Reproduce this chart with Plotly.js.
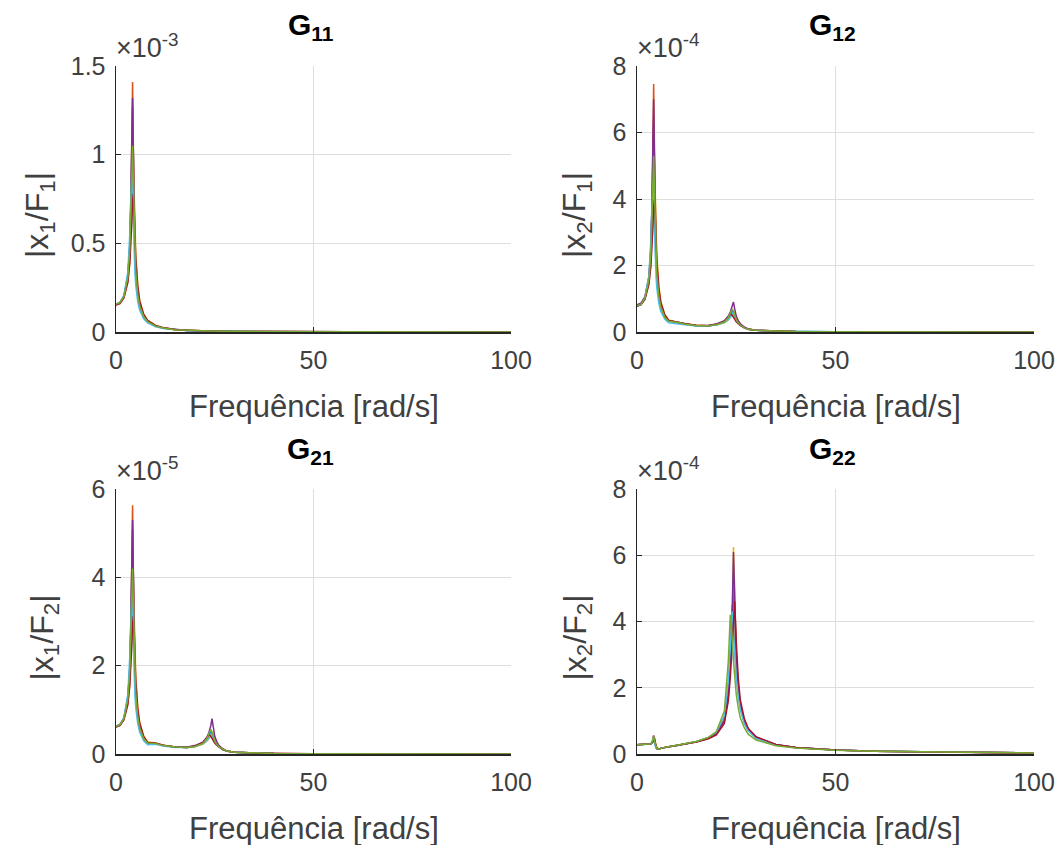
<!DOCTYPE html>
<html>
<head>
<meta charset="utf-8">
<script src="https://cdn.plot.ly/plotly-3.0.1.min.js"></script>
<style>html,body{margin:0;padding:0;background:#fff;}#chart{width:1060px;height:845px;}</style>
</head>
<body>
<div id="chart"></div>
<script>
// Frequency grid [rad/s]
const freq = [0,1,2,3,3.5,3.8,4.0,4.2,4.4,4.6,4.8,5.0,5.5,6,7,8,10,12,15,18,20,22,23,23.5,24,24.3,24.6,25,25.5,26,27,28,30,35,40,50,60,80,100];

const seriesColors = ['#0072BD','#D95319','#EDB120','#7E2F8E','#4DBEEE','#A2142F','#77AC30'];

// G11 |x1/F1| in units of 1e-3
const g11_blue   = [0.155,0.164,0.200,0.312,0.481,0.731,1.04,1.27,0.965,0.645,0.461,0.355,0.217,0.149,0.087,0.059,0.033,0.022,0.013,0.009,0.007,0.006,0.0055,0.0056,0.006,0.0062,0.0058,0.005,0.0048,0.0046,0.0042,0.004,0.0034,0.0025,0.0019,0.0012,0.0008,0.0005,0.0003];
const g11_orange = [0.152,0.162,0.198,0.31,0.486,0.750,1.107,1.41,1.03,0.664,0.468,0.36,0.217,0.149,0.087,0.059,0.033,0.022,0.013,0.009,0.007,0.006,0.0055,0.0056,0.006,0.0062,0.0058,0.005,0.0048,0.0046,0.0042,0.004,0.0034,0.0025,0.0019,0.0012,0.0008,0.0005,0.0003];
const g11_yellow = [0.155,0.163,0.195,0.284,0.398,0.534,0.678,0.864,0.95,0.80,0.596,0.449,0.267,0.178,0.101,0.067,0.037,0.024,0.0146,0.0099,0.0079,0.0065,0.006,0.006,0.0063,0.0065,0.006,0.0052,0.005,0.0047,0.0043,0.004,0.0035,0.0026,0.002,0.0012,0.0008,0.0005,0.0003];
const g11_purple = [0.158,0.167,0.204,0.318,0.49,0.739,1.07,1.32,0.99,0.653,0.465,0.358,0.219,0.151,0.088,0.06,0.034,0.022,0.0134,0.009,0.0072,0.006,0.0056,0.0057,0.0061,0.0063,0.0059,0.0051,0.0048,0.0046,0.0042,0.004,0.0034,0.0025,0.0019,0.0012,0.0008,0.0005,0.0003];
const g11_ltblue = [0.155,0.165,0.206,0.34,0.557,0.815,0.9,0.747,0.548,0.41,0.33,0.263,0.172,0.123,0.075,0.052,0.0295,0.0194,0.0119,0.0079,0.0065,0.0055,0.005,0.0051,0.0055,0.0057,0.0053,0.0046,0.0044,0.0042,0.0039,0.0037,0.0031,0.0023,0.0017,0.0011,0.0007,0.0004,0.0003];
const g11_dkred  = [0.152,0.16,0.192,0.28,0.388,0.505,0.617,0.738,0.78,0.68,0.538,0.42,0.26,0.175,0.1,0.066,0.037,0.024,0.0145,0.0098,0.0078,0.0064,0.006,0.006,0.0062,0.0064,0.006,0.0052,0.005,0.0047,0.0043,0.004,0.0035,0.0026,0.002,0.0012,0.0008,0.0005,0.0003];
const g11_green  = [0.156,0.165,0.201,0.31,0.47,0.688,0.917,1.05,0.848,0.603,0.443,0.345,0.214,0.148,0.087,0.059,0.033,0.022,0.013,0.009,0.007,0.006,0.0055,0.0056,0.006,0.0062,0.0058,0.005,0.0048,0.0046,0.0042,0.004,0.0034,0.0025,0.0019,0.0012,0.0008,0.0005,0.0003];

// G12 |x2/F1| in units of 1e-4
const g12_blue   = [0.78,0.82,1.0,1.56,2.4,3.65,5.2,6.35,4.82,3.22,2.3,1.78,1.09,0.75,0.45,0.33,0.3,0.24,0.19,0.19,0.22,0.3,0.42,0.5,0.62,0.6,0.48,0.37,0.28,0.21,0.13,0.08,0.05,0.025,0.015,0.008,0.005,0.003,0.002];
const g12_orange = [0.8,0.85,1.04,1.62,2.52,3.9,5.8,7.46,5.45,3.5,2.47,1.9,1.15,0.79,0.46,0.34,0.3,0.24,0.19,0.19,0.22,0.3,0.4,0.47,0.54,0.56,0.46,0.36,0.27,0.2,0.13,0.08,0.05,0.025,0.015,0.008,0.005,0.003,0.002];
const g12_yellow = [0.8,0.85,1.01,1.48,2.07,2.78,3.53,4.5,4.95,4.16,3.1,2.33,1.39,0.93,0.53,0.36,0.3,0.25,0.2,0.19,0.22,0.28,0.36,0.42,0.5,0.56,0.6,0.45,0.32,0.24,0.14,0.09,0.05,0.025,0.015,0.008,0.005,0.003,0.002];
const g12_purple = [0.82,0.87,1.06,1.66,2.56,3.9,5.65,7.0,5.25,3.46,2.46,1.9,1.16,0.8,0.47,0.34,0.3,0.24,0.19,0.2,0.24,0.34,0.48,0.6,0.78,0.9,0.7,0.48,0.34,0.25,0.15,0.09,0.05,0.025,0.015,0.008,0.005,0.003,0.002];
const g12_ltblue = [0.78,0.82,1.03,1.7,2.78,4.07,4.5,3.73,2.74,2.05,1.65,1.31,0.86,0.62,0.38,0.28,0.26,0.22,0.18,0.18,0.21,0.28,0.37,0.44,0.56,0.52,0.43,0.34,0.26,0.2,0.12,0.08,0.05,0.025,0.015,0.008,0.005,0.003,0.002];
const g12_dkred  = [0.77,0.82,0.98,1.43,1.98,2.58,3.15,3.76,3.98,3.47,2.74,2.14,1.33,0.89,0.51,0.35,0.3,0.25,0.2,0.19,0.23,0.32,0.45,0.56,0.5,0.44,0.38,0.31,0.25,0.2,0.13,0.08,0.05,0.025,0.015,0.008,0.005,0.003,0.002];
const g12_green  = [0.79,0.83,1.02,1.57,2.37,3.47,4.63,5.3,4.28,3.05,2.24,1.74,1.08,0.75,0.44,0.32,0.29,0.24,0.19,0.19,0.22,0.3,0.44,0.56,0.7,0.62,0.48,0.36,0.27,0.21,0.13,0.08,0.05,0.025,0.015,0.008,0.005,0.003,0.002];

// G21 |x1/F2| in units of 1e-5
const g21_blue   = [0.62,0.66,0.8,1.25,1.92,2.92,4.16,5.08,3.86,2.58,1.84,1.42,0.87,0.6,0.36,0.26,0.24,0.19,0.16,0.15,0.17,0.24,0.33,0.4,0.5,0.48,0.39,0.3,0.23,0.17,0.11,0.07,0.04,0.02,0.012,0.006,0.004,0.002,0.0015];
const g21_orange = [0.61,0.66,0.8,1.25,1.94,3.0,4.43,5.63,4.12,2.66,1.87,1.44,0.87,0.6,0.35,0.26,0.24,0.19,0.16,0.15,0.17,0.24,0.32,0.38,0.44,0.46,0.38,0.29,0.22,0.17,0.11,0.07,0.04,0.02,0.012,0.006,0.004,0.002,0.0015];
const g21_yellow = [0.62,0.65,0.78,1.14,1.59,2.14,2.71,3.46,3.8,3.2,2.38,1.8,1.07,0.71,0.41,0.28,0.25,0.2,0.16,0.15,0.17,0.22,0.29,0.34,0.4,0.45,0.48,0.36,0.26,0.19,0.11,0.07,0.04,0.02,0.012,0.006,0.004,0.002,0.0015];
const g21_purple = [0.63,0.67,0.82,1.27,1.96,2.96,4.28,5.3,3.96,2.61,1.86,1.43,0.88,0.6,0.35,0.26,0.24,0.19,0.16,0.16,0.19,0.27,0.38,0.48,0.64,0.8,0.6,0.4,0.28,0.2,0.12,0.07,0.04,0.02,0.012,0.006,0.004,0.002,0.0015];
const g21_ltblue = [0.62,0.66,0.82,1.36,2.23,3.26,3.6,2.99,2.19,1.64,1.32,1.05,0.69,0.49,0.3,0.21,0.22,0.18,0.15,0.15,0.17,0.23,0.3,0.36,0.45,0.42,0.35,0.27,0.21,0.16,0.1,0.07,0.04,0.02,0.012,0.006,0.004,0.002,0.0015];
const g21_dkred  = [0.61,0.64,0.77,1.12,1.55,2.02,2.47,2.95,3.12,2.72,2.15,1.68,1.04,0.7,0.4,0.26,0.25,0.2,0.16,0.15,0.18,0.26,0.36,0.45,0.4,0.35,0.3,0.25,0.2,0.16,0.1,0.07,0.04,0.02,0.012,0.006,0.004,0.002,0.0015];
const g21_green  = [0.62,0.66,0.8,1.24,1.88,2.75,3.67,4.2,3.39,2.41,1.77,1.38,0.86,0.59,0.35,0.25,0.24,0.19,0.16,0.15,0.17,0.24,0.35,0.45,0.56,0.5,0.39,0.29,0.22,0.17,0.11,0.07,0.04,0.02,0.012,0.006,0.004,0.002,0.0015];

// G22 |x2/F2| in units of 1e-4
const g22_blue   = [0.28,0.28,0.29,0.3,0.31,0.34,0.42,0.53,0.4,0.28,0.2,0.16,0.15,0.17,0.2,0.22,0.26,0.3,0.37,0.48,0.62,1.02,1.85,2.7,4.1,5.1,4.3,2.9,2.0,1.5,1.0,0.75,0.5,0.28,0.2,0.12,0.08,0.05,0.03];
const g22_orange = [0.28,0.28,0.29,0.3,0.31,0.34,0.43,0.56,0.42,0.29,0.2,0.16,0.15,0.17,0.2,0.22,0.26,0.3,0.38,0.5,0.65,1.1,2.1,3.1,4.5,3.9,3.2,2.4,1.8,1.4,0.95,0.72,0.48,0.27,0.19,0.12,0.08,0.05,0.03];
const g22_yellow = [0.28,0.28,0.29,0.3,0.31,0.33,0.36,0.44,0.5,0.36,0.24,0.18,0.15,0.17,0.2,0.22,0.26,0.3,0.37,0.48,0.61,0.98,1.7,2.5,4.0,6.25,4.9,3.1,2.1,1.55,1.02,0.76,0.5,0.28,0.2,0.12,0.08,0.05,0.03];
const g22_purple = [0.28,0.28,0.29,0.3,0.31,0.34,0.42,0.55,0.42,0.29,0.2,0.16,0.15,0.17,0.2,0.22,0.26,0.3,0.37,0.48,0.62,1.0,1.8,2.7,4.4,6.1,4.7,3.0,2.0,1.5,1.0,0.75,0.5,0.28,0.2,0.12,0.08,0.05,0.03];
const g22_ltblue = [0.28,0.28,0.29,0.3,0.32,0.36,0.48,0.45,0.33,0.24,0.18,0.16,0.15,0.17,0.2,0.22,0.26,0.3,0.38,0.5,0.66,1.15,2.2,3.2,4.3,3.7,3.0,2.3,1.75,1.35,0.92,0.7,0.47,0.27,0.19,0.12,0.08,0.05,0.03];
const g22_dkred  = [0.28,0.28,0.29,0.3,0.31,0.33,0.36,0.43,0.48,0.35,0.24,0.18,0.15,0.17,0.2,0.22,0.26,0.3,0.36,0.46,0.58,0.92,1.6,2.3,3.4,4.0,4.6,3.4,2.3,1.65,1.08,0.78,0.52,0.29,0.2,0.12,0.08,0.05,0.03];
const g22_green  = [0.28,0.28,0.29,0.3,0.31,0.34,0.42,0.54,0.41,0.29,0.2,0.16,0.15,0.17,0.2,0.22,0.26,0.3,0.38,0.5,0.68,1.3,2.8,4.2,3.5,2.8,2.3,1.8,1.4,1.1,0.8,0.6,0.42,0.25,0.18,0.11,0.08,0.05,0.03];

// Panel texts
const panelTitles = ['G<sub>11</sub>','G<sub>12</sub>','G<sub>21</sub>','G<sub>22</sub>'];
const yLabels = ['|x<sub>1</sub>/F<sub>1</sub>|','|x<sub>2</sub>/F<sub>1</sub>|','|x<sub>1</sub>/F<sub>2</sub>|','|x<sub>2</sub>/F<sub>2</sub>|'];
const xLabel = 'Frequência [rad/s]';
const exponents = ['-3','-4','-5','-4'];
const yMax = [1.5, 8, 6, 8];
const yTicks = [[0,0.5,1,1.5],[0,2,4,6,8],[0,2,4,6],[0,2,4,6,8]];
const yTickText = [['0','0.5','1','1.5'],['0','2','4','6','8'],['0','2','4','6'],['0','2','4','6','8']];
const xTicks = [0,50,100];

const panels = [
  [g11_blue,g11_orange,g11_yellow,g11_purple,g11_ltblue,g11_dkred,g11_green],
  [g12_blue,g12_orange,g12_yellow,g12_purple,g12_ltblue,g12_dkred,g12_green],
  [g21_blue,g21_orange,g21_yellow,g21_purple,g21_ltblue,g21_dkred,g21_green],
  [g22_blue,g22_orange,g22_yellow,g22_purple,g22_ltblue,g22_dkred,g22_green]
];

const W = 1060, H = 845;
const px = v => v / W;
const py = v => 1 - v / H;
// plot boxes in pixels [left, right, top, bottom]
const boxes = [[116,511,66,332],[637,1034,66,332],[116,511,489,754],[637,1034,489,754]];
const yLabelX = [40, 577, 44, 577];

const traces = [];
const layout = {
  width: W, height: H,
  margin: {l:0, r:0, t:0, b:0},
  paper_bgcolor: '#ffffff', plot_bgcolor: '#ffffff',
  showlegend: false,
  font: {family: 'Liberation Sans, Arial, sans-serif', color: '#262626', size: 25},
  annotations: []
};

panels.forEach((series, p) => {
  const sfx = p === 0 ? '' : String(p + 1);
  series.forEach((vals, k) => {
    traces.push({
      x: freq, y: vals, type: 'scatter', mode: 'lines',
      xaxis: 'x' + sfx, yaxis: 'y' + sfx,
      line: {color: seriesColors[k], width: 1.5},
      hoverinfo: 'skip'
    });
  });
  const b = boxes[p];
  const axCommon = {
    ticks: 'inside', ticklen: 5, tickwidth: 1, tickcolor: '#262626',
    showline: true, linecolor: '#262626', linewidth: 1.5,
    showgrid: true, gridcolor: '#dedede', gridwidth: 1,
    zeroline: false, tickfont: {size: 25, color: '#404040'},
    fixedrange: true
  };
  layout['xaxis' + sfx] = Object.assign({}, axCommon, {
    domain: [px(b[0]), px(b[1])], anchor: 'y' + sfx,
    range: [0, 100], tickmode: 'array', tickvals: xTicks, ticktext: xTicks.map(String),
    ticklabelstandoff: 5
  });
  layout['yaxis' + sfx] = Object.assign({}, axCommon, {
    domain: [py(b[3]), py(b[2])], anchor: 'x' + sfx,
    range: [0, yMax[p]], tickmode: 'array', tickvals: yTicks[p], ticktext: yTickText[p],
    ticklabelstandoff: 4
  });
  const cx = (b[0] + b[1]) / 2;
  const cy = (b[2] + b[3]) / 2;
  // title
  layout.annotations.push({
    xref: 'paper', yref: 'paper', x: px(cx - 3), y: py(b[2] - 39),
    xanchor: 'center', yanchor: 'middle', showarrow: false,
    text: '<b>' + panelTitles[p] + '</b>',
    font: {size: 30, color: '#000000'}
  });
  // exponent
  layout.annotations.push({
    xref: 'paper', yref: 'paper', x: px(b[0] - 2), y: py(b[2] - 1),
    xanchor: 'left', yanchor: 'bottom', showarrow: false,
    text: '\u00d710<sup>' + exponents[p] + '</sup>',
    font: {size: 27, color: '#404040'}
  });
  // x label
  layout.annotations.push({
    xref: 'paper', yref: 'paper', x: px(cx), y: py(b[3] + 74),
    xanchor: 'center', yanchor: 'middle', showarrow: false,
    text: xLabel, font: {size: 31, color: '#404040'}
  });
  // y label
  layout.annotations.push({
    xref: 'paper', yref: 'paper', x: px(yLabelX[p]), y: py(cy + 16),
    xanchor: 'center', yanchor: 'middle', showarrow: false, textangle: -90,
    text: yLabels[p], font: {size: 32, color: '#404040'}
  });
});

Plotly.newPlot('chart', traces, layout, {displayModeBar: false, staticPlot: true});
</script>
</body>
</html>
